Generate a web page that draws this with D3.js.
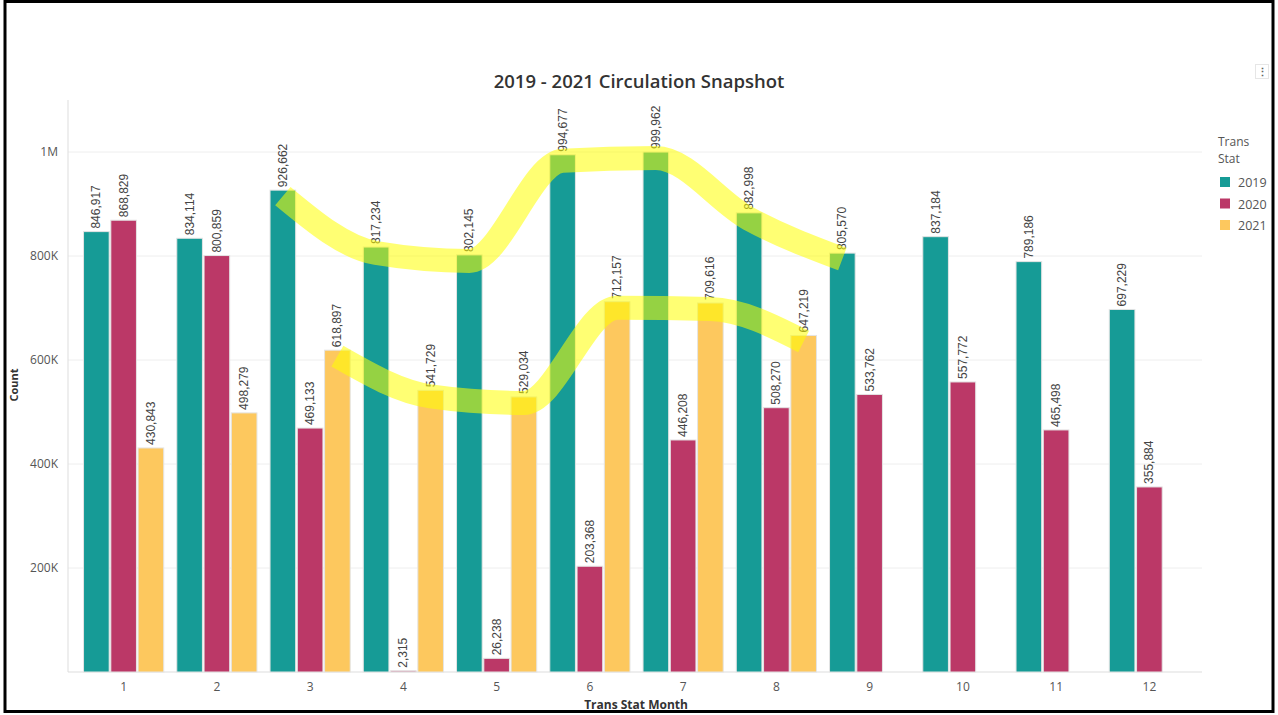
<!DOCTYPE html>
<html lang="en">
<head>
  <meta charset="utf-8">
  <title>Circulation Snapshot</title>
  <script src="https://d3js.org/d3.v7.min.js"></script>
  <style>
    body { margin: 0; background: #fff; }
    .axis text { font: 12px "Open Sans", sans-serif; fill: #555; }
    .vlabel { font: 12px "Liberation Sans", Arial, sans-serif; fill: #444; }
  </style>
</head>
<body>
  <div id="chart"></div>
  <script>
    "use strict"

    // data
    var months = ["1", "2", "3", "4", "5", "6", "7", "8", "9", "10", "11", "12"];
    var years = ["2019", "2020", "2021"];
    var count2019 = [846917, 834114, 926662, 817234, 802145, 994677, 999962, 882998, 805570, 837184, 789186, 697229];
    var count2020 = [868829, 800859, 469133, 2315, 26238, 203368, 446208, 508270, 533762, 557772, 465498, 355884];
    var count2021 = [430843, 498279, 618897, 541729, 529034, 712157, 709616, 647219];
    var yTicks = [200000, 400000, 600000, 800000, 1000000];
    var yTickLabels = ["200K", "400K", "600K", "800K", "1M"];
    // highlighter strokes drawn over the tops of these months
    var markTop = { year: "2019", months: ["3", "4", "5", "6", "7", "8", "9"] };
    var markLow = { year: "2021", months: ["3", "4", "5", "6", "7", "8"] };

    var colors = { "2019": "#169b96", "2020": "#bb3867", "2021": "#fdc85e" };
    var series = { "2019": count2019, "2020": count2020, "2021": count2021 };

    var W = 1278, H = 715;
    var svg = d3.select("#chart").append("svg").attr("width", W).attr("height", H);

    // outer frame of the screenshot
    svg.append("rect").attr("x", 5).attr("y", 1.5).attr("width", 1268).attr("height", 710)
      .attr("fill", "none").attr("stroke", "#000").attr("stroke-width", 3);

    var plotL = 68, plotR = 1202, plotT = 100, plotB = 672;

    var x0 = d3.scaleBand().domain(months).range([77, 1196]).paddingInner(0.14).paddingOuter(0.07);
    var x1 = d3.scaleBand().domain(years).range([0, x0.bandwidth()]).paddingInner(0.06);
    var y = d3.scaleLinear().domain([0, 1100000]).range([plotB, plotT]);

    // gridlines
    svg.append("g").selectAll("line").data(yTicks).enter().append("line")
      .attr("x1", plotL).attr("x2", plotR)
      .attr("y1", d => y(d)).attr("y2", d => y(d))
      .attr("stroke", "#eeeeee");

    // y axis
    var yAxis = svg.append("g").attr("class", "axis")
      .attr("transform", "translate(" + plotL + ",0)")
      .call(d3.axisLeft(y).tickValues(yTicks).tickSize(0).tickPadding(10)
        .tickFormat((d, i) => yTickLabels[i]));
    yAxis.select(".domain").remove();
    svg.append("line").attr("x1", plotL).attr("x2", plotL).attr("y1", plotT).attr("y2", plotB)
      .attr("stroke", "#dddddd");

    // x axis
    var xAxis = svg.append("g").attr("class", "axis")
      .attr("transform", "translate(0," + plotB + ")")
      .call(d3.axisBottom(x0).tickSize(0).tickPadding(10));
    xAxis.select(".domain").remove();
    svg.append("line").attr("x1", plotL).attr("x2", plotR).attr("y1", plotB).attr("y2", plotB)
      .attr("stroke", "#dddddd");

    // bars
    var rows = [];
    years.forEach(function (yr) {
      series[yr].forEach(function (v, i) {
        rows.push({ month: months[i], year: yr, value: v });
      });
    });

    var bars = svg.append("g");
    bars.selectAll("rect").data(rows).enter().append("rect")
      .attr("x", d => x0(d.month) + x1(d.year))
      .attr("y", d => y(d.value))
      .attr("width", x1.bandwidth())
      .attr("height", d => plotB - y(d.value))
      .attr("fill", d => colors[d.year])
      .attr("stroke", "#e4e4e4")
      .attr("stroke-width", 1);

    // value labels, rotated
    bars.selectAll("text").data(rows).enter().append("text")
      .attr("class", "vlabel")
      .attr("transform", d => "translate(" + (x0(d.month) + x1(d.year) + x1.bandwidth() / 2) + "," + (y(d.value) - 3) + ") rotate(-90)")
      .attr("dominant-baseline", "central")
      .text(d => d3.format(",")(d.value));

    // highlighter annotation
    function markPath(m) {
      var pts = m.months.map(function (mo) {
        var i = months.indexOf(mo);
        return [x0(mo) + x1(m.year) + x1.bandwidth() / 2, y(series[m.year][i]) + 6];
      });
      return d3.line().curve(d3.curveMonotoneX)(pts);
    }
    [markTop, markLow].forEach(function (m) {
      svg.append("path").attr("d", markPath(m))
        .attr("fill", "none")
        .attr("stroke", "#ffff00")
        .attr("stroke-opacity", 0.55)
        .attr("stroke-width", 24)
        .attr("stroke-linejoin", "round");
    });

    // title
    svg.append("text").attr("x", 639).attr("y", 88).attr("text-anchor", "middle")
      .style("font", "600 18.5px 'Open Sans', sans-serif").attr("fill", "#333")
      .text("2019 - 2021 Circulation Snapshot");

    // axis titles
    svg.append("text").attr("transform", "translate(18,385) rotate(-90)")
      .attr("text-anchor", "middle")
      .style("font", "bold 11px 'Open Sans', sans-serif").attr("fill", "#333")
      .text("Count");
    svg.append("text").attr("x", 636).attr("y", 709).attr("text-anchor", "middle")
      .style("font", "bold 12px 'Open Sans', sans-serif").attr("fill", "#333")
      .text("Trans Stat Month");

    // legend
    var legend = svg.append("g");
    legend.append("text").attr("x", 1218).attr("y", 146)
      .style("font", "12px 'Open Sans', sans-serif").attr("fill", "#555").text("Trans");
    legend.append("text").attr("x", 1218).attr("y", 163)
      .style("font", "12px 'Open Sans', sans-serif").attr("fill", "#555").text("Stat");
    var items = legend.selectAll("g.item").data(years).enter().append("g")
      .attr("transform", (d, i) => "translate(1220," + (177 + i * 21.5) + ")");
    items.append("rect").attr("width", 10).attr("height", 10).attr("fill", d => colors[d]);
    items.append("text").attr("x", 18).attr("y", 10)
      .style("font", "12.5px 'Open Sans', sans-serif").attr("fill", "#555").text(d => d);

    // little menu icon top right
    svg.append("rect").attr("x", 1255.5).attr("y", 64.5).attr("width", 13).attr("height", 14)
      .attr("fill", "#fff").attr("stroke", "#e6e6e6");
    svg.append("text").attr("x", 1262).attr("y", 76).attr("text-anchor", "middle")
      .style("font", "bold 11px 'Open Sans', sans-serif").attr("fill", "#666").text("⋮");
  </script>
</body>
</html>
